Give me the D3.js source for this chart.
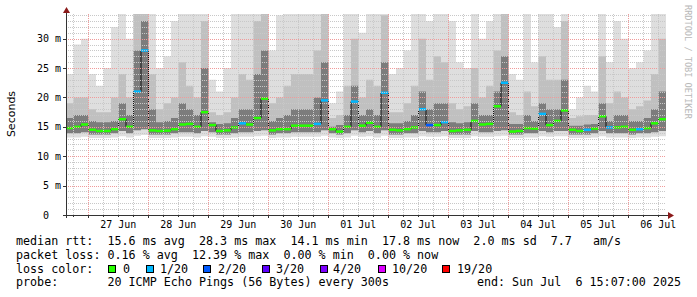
<!DOCTYPE html>
<html>
<head>
<meta charset="utf-8">
<script src="https://cdn.jsdelivr.net/npm/d3@7"></script>
<style>
body { margin: 0; background: #fff; }
text { font-family: "DejaVu Sans Mono", monospace; white-space: pre; }
</style>
</head>
<body>
<div id="chart"></div>
<script>
// graph window: 10 days, read in 3 hour steps
var startTime = new Date(2025, 5, 26, 15, 7, 0);
var endTime = new Date(2025, 6, 6, 15, 7, 0);
var stepHours = 3;

// median rtt per step (ms)
var medianMs = [14.8, 15.0, 15.4, 14.5, 14.3, 14.3, 14.6, 16.3, 15.0, 21.0,
    28.0, 14.4, 14.3, 14.35, 14.6, 15.4, 15.5, 15.0, 17.5, 15.3,
    14.3, 14.4, 14.9, 15.6, 15.4, 16.5, 19.8, 14.4, 14.6, 14.6,
    15.2, 15.2, 15.2, 15.5, 19.5, 14.6, 14.2, 15.0, 19.3, 15.2,
    15.7, 15.0, 20.8, 14.5, 14.4, 14.6, 14.9, 18.0, 15.3, 15.3,
    15.8, 14.3, 14.4, 14.5, 16.0, 15.4, 15.5, 18.5, 22.5, 14.2,
    14.3, 14.8, 14.7, 17.2, 15.3, 16.0, 17.8, 14.5, 14.3, 14.5,
    14.7, 16.8, 14.9, 14.9, 15.0, 14.5, 14.6, 14.8, 15.6, 16.3];

// lost pings out of 20 per step
var lossCount = [0, 0, 0, 0, 0, 0, 0, 0, 0, 1,
    1, 0, 0, 0, 0, 0, 0, 0, 0, 0,
    0, 0, 0, 1, 0, 0, 0, 0, 0, 0,
    0, 0, 0, 1, 1, 0, 0, 0, 1, 0,
    0, 0, 1, 0, 0, 0, 0, 1, 2, 0,
    1, 0, 0, 0, 0, 0, 0, 0, 1, 0,
    0, 0, 0, 1, 0, 0, 0, 0, 0, 1,
    0, 0, 1, 0, 0, 0, 1, 0, 0, 0];

// smoke: lowest ping, low inner edge, dark, middle and highest ping (ms)
var minMs = [13.2, 13.2, 13.3, 13.1, 13.1, 13.1, 13.2, 13.4, 13.2, 13.5,
    13.6, 13.1, 13.1, 13.1, 13.2, 13.3, 13.3, 13.2, 13.4, 13.3,
    13.1, 13.1, 13.2, 13.3, 13.3, 13.4, 13.5, 13.1, 13.2, 13.2,
    13.3, 13.3, 13.3, 13.3, 13.5, 13.2, 13.1, 13.2, 13.5, 13.3,
    13.4, 13.2, 13.5, 13.1, 13.1, 13.2, 13.2, 13.4, 13.3, 13.3,
    13.4, 13.1, 13.1, 13.1, 13.4, 13.3, 13.3, 13.4, 13.5, 13.1,
    13.1, 13.2, 13.2, 13.4, 13.3, 13.4, 13.4, 13.1, 13.1, 13.1,
    13.2, 13.4, 13.2, 13.2, 13.2, 13.1, 13.2, 13.2, 13.3, 13.4];
var lowMs = [13.9, 13.9, 14.1, 13.7, 13.7, 13.7, 13.9, 14.3, 13.9, 14.4,
    14.6, 13.7, 13.7, 13.7, 13.9, 14.1, 14.1, 13.9, 14.3, 14.1,
    13.7, 13.7, 13.9, 14.1, 14.1, 14.3, 14.4, 13.7, 13.9, 13.9,
    14.1, 14.1, 14.1, 14.1, 14.4, 13.9, 13.7, 13.9, 14.4, 14.1,
    14.3, 13.9, 14.4, 13.7, 13.7, 13.9, 13.9, 14.3, 14.1, 14.1,
    14.3, 13.7, 13.7, 13.7, 14.3, 14.1, 14.1, 14.3, 14.4, 13.7,
    13.7, 13.9, 13.9, 14.3, 14.1, 14.3, 14.3, 13.7, 13.7, 13.7,
    13.9, 14.3, 13.9, 13.9, 13.9, 13.7, 13.9, 13.9, 14.1, 14.3];
var darkMs = [16.5, 17, 17, 16, 15.8, 15.8, 16, 19, 17, 28,
    33, 18, 15.8, 16, 16.5, 19, 18, 17, 25, 15.8,
    15.5, 15.6, 16.5, 18, 18, 24, 28, 16, 16.5, 17,
    18, 18, 18, 20, 26, 15, 15.3, 17, 22, 17,
    18, 17, 26, 15.6, 15.6, 16, 17, 21, 18, 19,
    19, 15.8, 15.6, 15.8, 19, 17, 17, 21, 27, 15.5,
    15.5, 17, 16, 19, 18, 18, 23, 15.2, 15.2, 15.4,
    15.5, 19, 16, 17, 17, 16, 16, 16.5, 18, 21];
var midMs = [19, 20, 20, 18, 17.5, 17.5, 20, 24, 20, 35,
    35, 24, 18, 19, 20, 26, 22, 20, 33, 17.5,
    17, 17.5, 20, 24, 23, 33, 35, 19, 20, 22,
    24, 24, 24, 28, 35, 16.5, 17, 22, 30, 20,
    23, 22, 34, 17.5, 17.5, 19, 22, 30, 23, 27,
    26, 19, 18, 18.5, 25, 20, 22, 28, 35, 17.5,
    17, 21, 18.5, 27, 23, 23, 33, 16.5, 16.8, 17,
    17, 27, 19, 21, 20, 18, 18.5, 19.5, 24, 30];
var maxMs = [24, 29, 30, 24, 22, 25, 32, 35, 30, 35,
    35, 35, 25, 27, 33, 35, 35, 35, 35, 23,
    21, 25, 35, 35, 35, 35, 35, 28, 34, 35,
    35, 35, 35, 35, 35, 19, 21, 35, 35, 31,
    35, 35, 35, 24, 25, 28, 35, 35, 33, 35,
    35, 33, 26, 25, 35, 30, 33, 35, 35, 24,
    23, 35, 26, 35, 35, 32, 35, 18, 20, 22,
    21, 35, 26, 33, 30, 25, 26, 28, 35, 35];

var yTicks = [0, 5, 10, 15, 20, 25, 30];
var yTickLabels = ['0  ', '5 m', '10 m', '15 m', '20 m', '25 m', '30 m'];
var dayLabels = ['27 Jun', '28 Jun', '29 Jun', '30 Jun', '01 Jul', '02 Jul', '03 Jul', '04 Jul', '05 Jul', '06 Jul'];

var lossThresholds = [0, 1, 2, 3, 4, 10, 19];
var lossLabels = ['0', '1/20', '2/20', '3/20', '4/20', '10/20', '19/20'];
var lossColors = ['#26ff00', '#00b8ff', '#0059ff', '#5e00ff', '#7e00ff', '#dd00ff', '#ff0000'];

var legendLines = [
    'median rtt:  15.6 ms avg  28.3 ms max  14.1 ms min  17.8 ms now  2.0 ms sd  7.7   am/s',
    'packet loss: 0.16 % avg  12.39 % max  0.00 % min  0.00 % now',
    'loss color:',
    'probe:       20 ICMP Echo Pings (56 Bytes) every 300s'
];
var endLabel = 'end: Sun Jul  6 15:07:00 2025';

(function() {
    var W = 697, H = 297;
    var pl = 66, pr = 666, pt = 14, pb = 215;
    var n = medianMs.length;

    var svg = d3.select('#chart').append('svg')
        .attr('width', W)
        .attr('height', H);

    svg.append('rect').attr('width', W).attr('height', H).attr('fill', '#fff');

    var x = d3.scaleTime().domain([startTime, endTime]).range([pl, pr]);
    var y = d3.scaleLinear().domain([0, 34.2]).range([pb, pt]);

    function stepTime(i) {
        return new Date(+startTime + i * stepHours * 3600000);
    }
    function val(arr, i) {
        return arr[Math.min(i, n - 1)];
    }

    svg.append('clipPath').attr('id', 'plotclip')
        .append('rect')
        .attr('x', pl).attr('y', pt)
        .attr('width', pr - pl).attr('height', pb - pt);

    var plot = svg.append('g').attr('clip-path', 'url(#plotclip)');
    var idx = d3.range(n + 1);

    function band(lo, hi) {
        return d3.area()
            .curve(d3.curveStepAfter)
            .x(function(i) { return x(stepTime(i)); })
            .y0(function(i) { return y(val(lo, i)); })
            .y1(function(i) { return y(val(hi, i)); });
    }

    plot.append('path').datum(idx).attr('d', band(minMs, maxMs)).attr('fill', '#dedede');
    plot.append('path').datum(idx).attr('d', band(lowMs, midMs)).attr('fill', '#c0c0c0');
    plot.append('path').datum(idx).attr('d', band(lowMs, darkMs)).attr('fill', '#7c7c7c');

    // grid
    var grid = svg.append('g').attr('fill', 'none').attr('stroke-dasharray', '1,1');
    d3.range(1, 35).forEach(function(v) {
        var major = v % 5 === 0;
        grid.append('line')
            .attr('x1', pl).attr('x2', pr)
            .attr('y1', Math.round(y(v)) + 0.5).attr('y2', Math.round(y(v)) + 0.5)
            .attr('stroke', major ? '#f09a9a' : '#c8c8c8');
    });
    var sixHours = d3.timeHour.every(6).range(startTime, endTime);
    sixHours.forEach(function(t) {
        var major = t.getHours() === 0;
        var px = Math.round(x(t)) + 0.5;
        grid.append('line')
            .attr('x1', px).attr('x2', px)
            .attr('y1', pt).attr('y2', pb)
            .attr('stroke', major ? '#f09a9a' : '#c8c8c8');
    });

    // median line, coloured by loss
    var medianLine = d3.line()
        .curve(d3.curveStepAfter)
        .x(function(i) { return x(stepTime(i)); })
        .y(function(i) { return y(val(medianMs, i)); });

    plot.append('path').datum(idx)
        .attr('d', medianLine)
        .attr('fill', 'none')
        .attr('stroke', '#111')
        .attr('stroke-width', 1);

    function lossColor(c) {
        var k = 0;
        lossThresholds.forEach(function(t, j) { if (c >= t) k = j; });
        return lossColors[k];
    }

    plot.selectAll('line.med')
        .data(d3.range(n))
        .enter()
        .append('line')
        .attr('class', 'med')
        .attr('x1', function(i) { return x(stepTime(i)); })
        .attr('x2', function(i) { return x(stepTime(i + 1)); })
        .attr('y1', function(i) { return y(medianMs[i]); })
        .attr('y2', function(i) { return y(medianMs[i]); })
        .attr('stroke', function(i) { return lossColor(lossCount[i]); })
        .attr('stroke-width', 2.5);

    // axes
    var axisColor = '#333';
    svg.append('line').attr('x1', 63).attr('x2', 669).attr('y1', pb + 0.5).attr('y2', pb + 0.5)
        .attr('stroke', axisColor);
    svg.append('line').attr('x1', pl + 0.5).attr('x2', pl + 0.5).attr('y1', 218).attr('y2', 11)
        .attr('stroke', axisColor);
    svg.append('path').attr('d', 'M668,212 L674,215.5 L668,219 Z').attr('fill', '#8b1a1a');
    svg.append('path').attr('d', 'M63,13 L66.5,7 L70,13 Z').attr('fill', '#8b1a1a');

    yTicks.forEach(function(v) {
        svg.append('line').attr('x1', 63).attr('x2', pl)
            .attr('y1', Math.round(y(v)) + 0.5).attr('y2', Math.round(y(v)) + 0.5)
            .attr('stroke', axisColor);
    });
    sixHours.forEach(function(t) {
        var px = Math.round(x(t)) + 0.5;
        svg.append('line').attr('x1', px).attr('x2', px)
            .attr('y1', pb).attr('y2', pb + (t.getHours() === 0 ? 3 : 2))
            .attr('stroke', axisColor);
    });

    svg.selectAll('text.ytick')
        .data(yTicks)
        .enter()
        .append('text')
        .attr('class', 'ytick')
        .attr('x', 61)
        .attr('y', function(d) { return y(d) + 3.6; })
        .attr('text-anchor', 'end')
        .attr('font-size', '10px')
        .text(function(d, i) { return yTickLabels[i]; });

    var noons = d3.timeDay.range(d3.timeDay.ceil(startTime), endTime).map(function(d) {
        return d3.timeHour.offset(d, 12);
    });
    svg.selectAll('text.xtick')
        .data(noons)
        .enter()
        .append('text')
        .attr('class', 'xtick')
        .attr('x', function(d) { return x(d); })
        .attr('y', 228)
        .attr('text-anchor', 'middle')
        .attr('font-size', '10px')
        .text(function(d, i) { return dayLabels[i]; });

    svg.append('text')
        .attr('transform', 'translate(15,114) rotate(-90)')
        .attr('text-anchor', 'middle')
        .style('font-family', '"DejaVu Sans", sans-serif')
        .attr('font-size', '11px')
        .text('Seconds');

    svg.append('text')
        .attr('transform', 'translate(685,5) rotate(90)')
        .attr('font-size', '8.6px')
        .attr('fill', '#b8b8b8')
        .text('RRDTOOL / TOBI OETIKER');

    // legend
    var legend = svg.append('g').attr('font-size', '11.7px');
    legendLines.forEach(function(s, i) {
        legend.append('text')
            .attr('x', 16)
            .attr('y', 245 + i * 13.8)
            .text(s);
    });
    legend.append('text')
        .attr('x', 681)
        .attr('y', 245 + 3 * 13.8)
        .attr('text-anchor', 'end')
        .text(endLabel);

    var boxX = [108, 146, 203, 262, 320, 378, 442];
    var boxTextX = [123, 160, 218, 276, 333, 392, 457];
    lossLabels.forEach(function(lab, i) {
        legend.append('rect')
            .attr('x', boxX[i] + 0.5).attr('y', 265.5)
            .attr('width', 7).attr('height', 7)
            .attr('fill', lossColors[i])
            .attr('stroke', '#000');
        legend.append('text')
            .attr('x', boxTextX[i])
            .attr('y', 245 + 2 * 13.8)
            .text(lab);
    });
})();
</script>
</body>
</html>
